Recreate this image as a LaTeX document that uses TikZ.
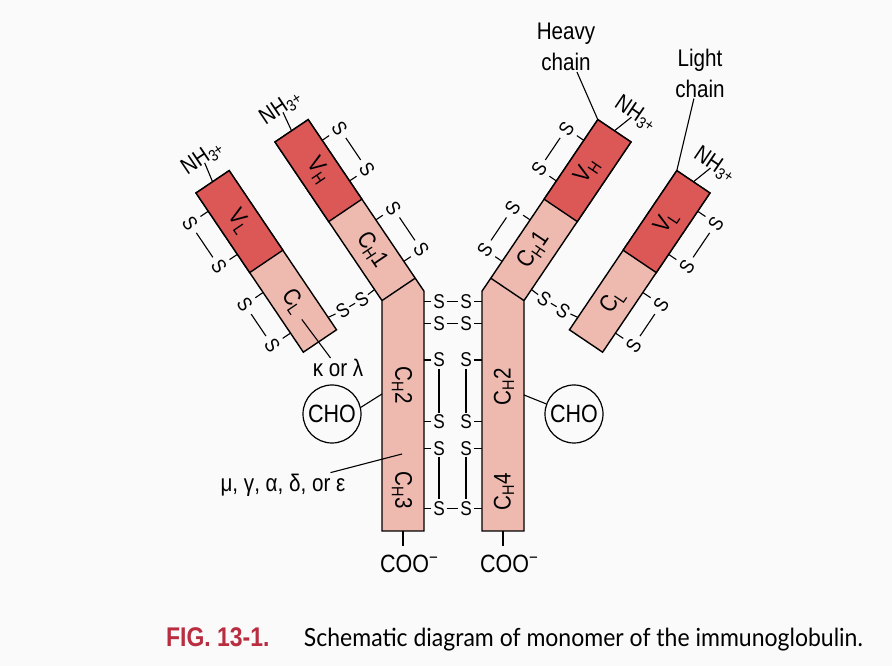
\documentclass[tikz,border=0pt]{standalone}
\usepackage{fontspec}
\setmainfont{Liberation Sans}[FakeStretch=0.86]
\newfontfamily\capfont{Lato}[FakeStretch=0.92]
\newfontfamily\figfont{Liberation Sans}[FakeStretch=0.85]
\usetikzlibrary{positioning}
\definecolor{vdark}{RGB}{219,88,86}
\definecolor{clight}{RGB}{238,186,176}
\definecolor{figred}{RGB}{185,45,65}
\definecolor{paper}{RGB}{250,250,250}
\newcommand{\amino}{NH\textsubscript{3\raisebox{0.35ex}{+}}}
\tikzset{vdomain/.style={draw=black,fill=vdark,line width=1.4pt}}
\tikzset{cdomain/.style={draw=black,fill=clight,line width=1.4pt}}
\tikzset{domlabel/.style={inner sep=0pt,font=\fontsize{24}{24}\selectfont}}
\tikzset{sulfur/.style={inner sep=1pt,outer sep=1pt,font=\fontsize{20}{20}\selectfont}}
\tikzset{armsulfur/.style={sulfur,outer sep=4.5pt}}
\tikzset{nhlabel/.style={inner sep=0pt,outer sep=-5pt,font=\fontsize{23}{23}\selectfont}}
\tikzset{textlabel/.style={inner sep=1pt,font=\fontsize{24}{24}\selectfont}}
\tikzset{bond/.style={line width=1.1pt}}

\begin{document}
\begin{tikzpicture}[x=1pt,y=1pt]
    \fill[paper] (0,0) rectangle (892,666);

    % heavy chains
    \draw[cdomain] (275,524) -- (308.2,546.4) -- (424,374.8) -- (424,135) -- (382,135) -- (382,365.4) -- cycle;
    \draw[cdomain] (631,524) -- (597.8,546.4) -- (482,374.8) -- (482,135) -- (524,135) -- (524,365.4) -- cycle;

    % left light chain
    \begin{scope}[shift={(196,473)},rotate=-56,transform shape]
        \draw[cdomain] (0,0) rectangle (192,40);
        \draw[vdomain] (0,0) rectangle (96,40);
        \node[domlabel] (vll) at (48,20) {V\textsubscript{L}};
        \node[domlabel] (cll) at (144,20) {C\textsubscript{L}};
        \node[nhlabel,rotate=90] (nhll) at (-25,25) {\amino};
        \draw[bond] (0,20) -- (nhll);
        \node[armsulfur] (sll1) at (22,-22) {S};
        \node[armsulfur] (sll2) at (74,-22) {S};
        \node[armsulfur] (sll3) at (120,-22) {S};
        \node[armsulfur] (sll4) at (169,-22) {S};
        \draw[bond] (22,0) -- (sll1) -- (sll2) -- (74,0);
        \draw[bond] (120,0) -- (sll3) -- (sll4) -- (169,0);
        \coordinate (llss) at (177,40);
        \coordinate (llkappa) at (164,17);
    \end{scope}

    % left heavy chain
    \begin{scope}[shift={(275,524)},rotate=-56,transform shape]
        \draw[vdomain] (0,0) rectangle (96,40);
        \draw[line width=1.4pt] (191.3,0) -- (191.3,40);
        \node[domlabel] (vhl) at (48,20) {V\textsubscript{H}};
        \node[domlabel] (ch1l) at (144,20) {C\textsubscript{H}1};
        \node[nhlabel,rotate=90] (nhhl) at (-25,24) {\amino};
        \draw[bond] (0,20) -- (nhhl);
        \node[armsulfur] (shl1) at (25,61) {S};
        \node[armsulfur] (shl2) at (74,61) {S};
        \node[armsulfur] (shl3) at (121,61) {S};
        \node[armsulfur] (shl4) at (171,61) {S};
        \draw[bond] (25,40) -- (shl1) -- (shl2) -- (74,40);
        \draw[bond] (121,40) -- (shl3) -- (shl4) -- (171,40);
        \coordinate (lhss) at (178,0);
    \end{scope}

    % right light chain
    \begin{scope}[shift={(602.6,313.8)},rotate=56,transform shape]
        \draw[cdomain] (0,0) rectangle (192,40);
        \draw[vdomain] (96,0) rectangle (192,40);
        \node[domlabel] (clr) at (48,20) {C\textsubscript{L}};
        \node[domlabel] (vlr) at (144,20) {V\textsubscript{L}};
        \node[nhlabel,rotate=-90] (nhlr) at (218,12) {\amino};
        \draw[bond] (192,20) -- (nhlr);
        \node[armsulfur] (slr1) at (23,-22) {S};
        \node[armsulfur] (slr2) at (72,-22) {S};
        \node[armsulfur] (slr3) at (118,-22) {S};
        \node[armsulfur] (slr4) at (170,-22) {S};
        \draw[bond] (23,0) -- (slr1) -- (slr2) -- (72,0);
        \draw[bond] (118,0) -- (slr3) -- (slr4) -- (170,0);
        \coordinate (rlss) at (15,40);
        \coordinate (rltip) at (192,40);
    \end{scope}

    % right heavy chain
    \begin{scope}[shift={(524,365.4)},rotate=56,transform shape]
        \draw[vdomain] (95.3,0) rectangle (191.3,40);
        \draw[line width=1.4pt] (0,0) -- (0,40);
        \node[domlabel] (ch1r) at (47.3,20) {C\textsubscript{H}1};
        \node[domlabel] (vhr) at (143.3,20) {V\textsubscript{H}};
        \node[nhlabel,rotate=-90] (nhhr) at (217,12) {\amino};
        \draw[bond] (191.3,20) -- (nhhr);
        \node[armsulfur] (shr1) at (20.3,61) {S};
        \node[armsulfur] (shr2) at (70.3,61) {S};
        \node[armsulfur] (shr3) at (117.3,61) {S};
        \node[armsulfur] (shr4) at (166.3,61) {S};
        \draw[bond] (20.3,40) -- (shr1) -- (shr2) -- (70.3,40);
        \draw[bond] (117.3,40) -- (shr3) -- (shr4) -- (166.3,40);
        \coordinate (rhss) at (13.3,0);
        \coordinate (rhtip) at (191.3,40);
    \end{scope}

    % stem domain labels
    \node[domlabel,rotate=-90] (ch2l) at (402,281) {C\textsubscript{H}2};
    \node[domlabel,rotate=-90] (ch3l) at (402,176) {C\textsubscript{H}3};
    \node[domlabel,rotate=90] (ch2r) at (504,279) {C\textsubscript{H}2};
    \node[domlabel,rotate=90] (ch4r) at (504,174) {C\textsubscript{H}4};

    % light-heavy bridges
    \node[sulfur,rotate=34] (ssl1) at (342.7,355.3) {S};
    \node[sulfur,rotate=34] (ssl2) at (361.7,366.7) {S};
    \draw[bond] (llss) -- (ssl1) -- (ssl2) -- (lhss);
    \node[sulfur,rotate=-34] (ssr1) at (563.3,355.3) {S};
    \node[sulfur,rotate=-34] (ssr2) at (544.3,366.7) {S};
    \draw[bond] (rlss) -- (ssr1) -- (ssr2) -- (rhss);

    % heavy-heavy bridges
    \coordinate (stemL) at (424,0);
    \coordinate (stemR) at (482,0);
    \node[sulfur] (c1l) at (439,364.3) {S};
    \node[sulfur] (c1r) at (466,364.3) {S};
    \node[sulfur] (c2l) at (439,342.7) {S};
    \node[sulfur] (c2r) at (466,342.7) {S};
    \node[sulfur] (c3l) at (439,306) {S};
    \node[sulfur] (c3r) at (466,306) {S};
    \node[sulfur] (c4l) at (439,244.3) {S};
    \node[sulfur] (c4r) at (466,244.3) {S};
    \node[sulfur] (c5l) at (439,217.7) {S};
    \node[sulfur] (c5r) at (466,217.7) {S};
    \node[sulfur] (c6l) at (439,157.7) {S};
    \node[sulfur] (c6r) at (466,157.7) {S};
    \draw[bond] (c1l -| stemL) -- (c1l) -- (c1r) -- (c1r -| stemR);
    \draw[bond] (c2l -| stemL) -- (c2l) -- (c2r) -- (c2r -| stemR);
    \draw[bond] (c3l -| stemL) -- (c3l);
    \draw[bond] (c3r) -- (c3r -| stemR);
    \draw[bond] (c4l -| stemL) -- (c4l);
    \draw[bond] (c4r) -- (c4r -| stemR);
    \draw[bond] (c5l -| stemL) -- (c5l);
    \draw[bond] (c5r) -- (c5r -| stemR);
    \draw[bond] (c6l -| stemL) -- (c6l) -- (c6r) -- (c6r -| stemR);
    \draw[bond] (c3l) -- (c4l);
    \draw[bond] (c3r) -- (c4r);
    \draw[bond] (c5l) -- (c6l);
    \draw[bond] (c5r) -- (c6r);

    % carbohydrate
    \node[circle,draw,line width=1.2pt,minimum size=58pt,inner sep=0pt,font=\fontsize{25}{25}\selectfont] (chol) at (332,252) {CHO};
    \node[circle,draw,line width=1.2pt,minimum size=58pt,inner sep=0pt,font=\fontsize{25}{25}\selectfont] (chor) at (574,252) {CHO};
    \coordinate (cholink) at (382,272);
    \coordinate (chorlink) at (524,271);
    \draw[bond] (chol.13) -- (cholink);
    \draw[bond] (chor.160) -- (chorlink);

    % carboxyl ends
    \node[textlabel,anchor=base west,inner sep=0pt,font=\fontsize{25}{25}\selectfont] (cool) at (380,93) {COO\textsuperscript{−}};
    \node[textlabel,anchor=base west,inner sep=0pt,font=\fontsize{25}{25}\selectfont] (coor) at (480,93) {COO\textsuperscript{−}};
    \coordinate (lbot) at (403,135);
    \coordinate (lbottick) at (403,120);
    \coordinate (rbot) at (503,135);
    \coordinate (rbottick) at (503,120);
    \draw[bond] (lbot) -- (lbottick);
    \draw[bond] (rbot) -- (rbottick);

    % chain labels
    \node[textlabel,align=center,font=\fontsize{24}{31}\selectfont] (heavy) at (566,619) {Heavy\\chain};
    \node[textlabel,align=center,font=\fontsize{24}{31}\selectfont] (light) at (700,593) {Light\\chain};
    \draw[bond] (heavy) -- (rhtip);
    \draw[bond] (light) -- (rltip);
    \node[textlabel] (kappa) at (338,298) {κ or λ};
    \draw[bond] (kappa) -- (llkappa);
    \node[textlabel] (heavyclass) at (283,181) {μ, γ, α, δ, or ε};
    \coordinate (stemclass) at (402,212);
    \draw[bond] (heavyclass) -- (stemclass);

    % caption
    \node[anchor=base west,inner sep=0pt,text=figred,font=\fontsize{27}{27}\figfont\bfseries] (figno) at (166,19) {FIG. 13-1.};
    \node[anchor=base west,inner sep=0pt,font=\fontsize{25}{25}\capfont] (figtext) at ([xshift=34pt]figno.base east) {Schematic diagram of monomer of the immunoglobulin.};
\end{tikzpicture}
\end{document}
